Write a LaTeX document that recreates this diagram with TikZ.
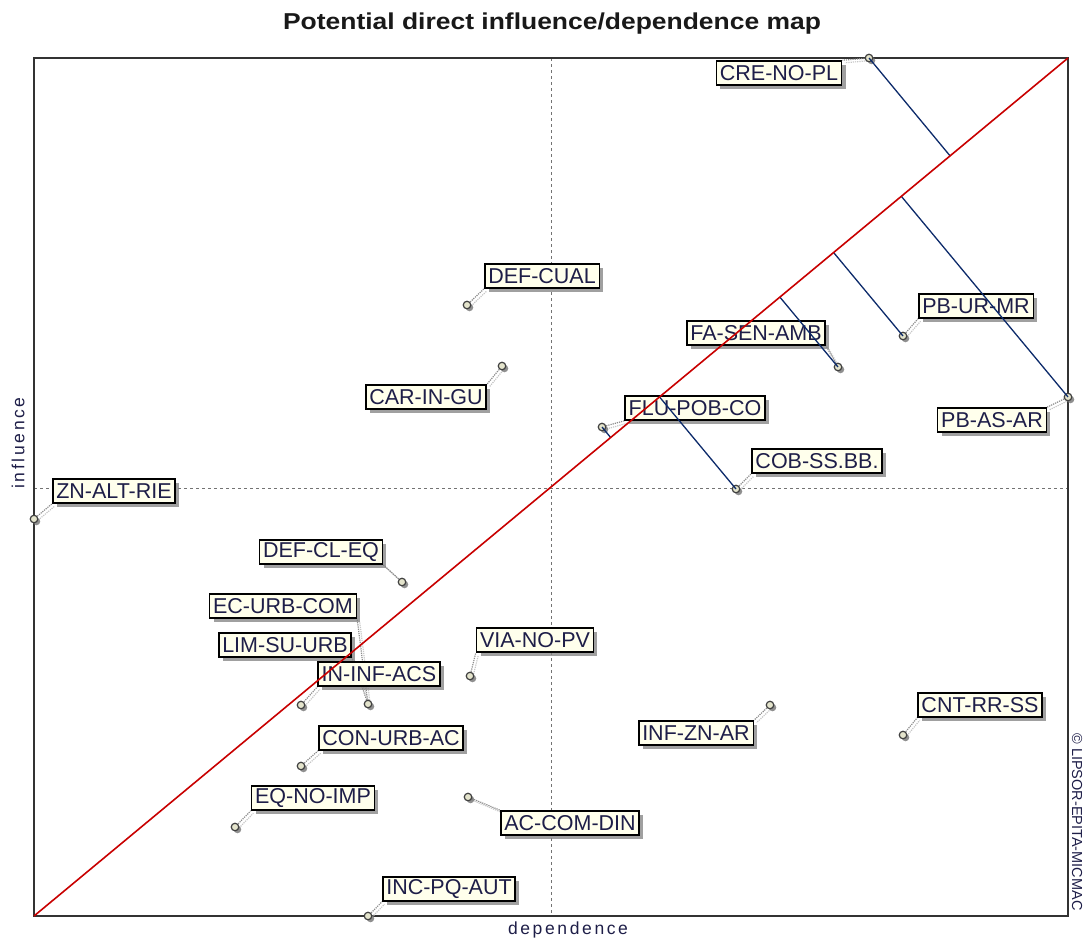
\documentclass[tikz,border=0pt]{standalone}
\usepackage{fontspec}
\setmainfont{Liberation Sans}
\newfontfamily\spacedfont[LetterSpace=15]{Liberation Sans}
\usetikzlibrary{calc,shadows}
\definecolor{labfill}{HTML}{FFFFEC}
\definecolor{labtext}{HTML}{1E1E48}
\definecolor{ptfill}{HTML}{E4E4CC}
\definecolor{perpblue}{HTML}{0C2A6A}
\definecolor{diagred}{HTML}{C80000}
\pgfdeclarelayer{back}
\pgfdeclarelayer{front}
\pgfsetlayers{back,main,front}
\begin{document}
\begin{tikzpicture}[x=1pt,y=-1pt,
  lab/.style={draw=black, line width=1.5pt, fill=labfill, text=labtext,
    font=\fontsize{21.5}{21.5}\selectfont, inner xsep=3.5pt, inner ysep=0pt,
    minimum height=24pt,
    drop shadow={shadow xshift=4pt,shadow yshift=-4pt,fill=black!50,opacity=0.75}},
  pt/.style={circle, draw=black!75, line width=1.2pt, fill=ptfill, inner sep=0pt,
    minimum size=7.5pt,
    drop shadow={shadow xshift=2.5pt,shadow yshift=-2.5pt,fill=black!55,opacity=0.8}},
  leader/.style={draw=black!45, densely dotted, line width=1.2pt},
  leadsh/.style={draw=black!22, densely dotted, line width=1.2pt, transform canvas={xshift=2.5pt,yshift=-2.5pt}},
  perp/.style={draw=perpblue, line width=1.3pt},
  diag/.style={draw=diagred, line width=1.6pt},
  frame/.style={draw=black!80, line width=1.5pt},
  mid/.style={draw=black!55, dashed, line width=0.8pt},
  axislab/.style={font=\spacedfont\fontsize{17.5}{17.5}\selectfont, text=labtext},
]
\useasboundingbox (0,0) rectangle (1083,940);

% frame corners
\coordinate (A) at (34,916);
\coordinate (B) at (1068,58);
\coordinate (TL) at (34,58);
\coordinate (BR) at (1068,916);
\coordinate (mt) at (551,58);
\coordinate (mb) at (551,916);
\coordinate (ml) at (34,488);
\coordinate (mr) at (1068,488);

% title and axis labels
\node (title) at (552,24) {\fontsize{23}{23}\selectfont\bfseries\color{black!90}\scalebox{1.15}[1]{Potential direct influence/dependence map}};
\node[axislab] (xlab) at (568,930) {dependence};
\node[axislab, rotate=90] (ylab) at (18,443) {influence};
\node[font=\fontsize{14.5}{14.5}\selectfont, text=labtext, rotate=-90] (credit) at (1077,822) {© LIPSOR-EPITA-MICMAC};

\begin{pgfonlayer}{back}
  \draw[mid] (mt) -- (mb);
  \draw[mid] (ml) -- (mr);
  \draw[frame] (TL) rectangle (BR);
\end{pgfonlayer}

% points
\node[pt] (pCRE) at (869,58) {};
\node[pt] (pDEFCUAL) at (467,305) {};
\node[pt] (pCAR) at (502,366) {};
\node[pt] (pFA) at (838,367) {};
\node[pt] (pPBUR) at (903,336) {};
\node[pt] (pPBAS) at (1068,397) {};
\node[pt] (pFLU) at (602,427) {};
\node[pt] (pCOB) at (736,489) {};
\node[pt] (pZN) at (34,519) {};
\node[pt] (pDEFCL) at (402,582) {};
\node[pt] (pEC) at (368,704) {};
\node[pt] (pIN) at (301,705) {};
\node[pt] (pVIA) at (470,676) {};
\node[pt] (pINF) at (770,705) {};
\node[pt] (pCNT) at (903,735) {};
\node[pt] (pCON) at (301,766) {};
\node[pt] (pEQ) at (235,827) {};
\node[pt] (pAC) at (468,797) {};
\node[pt] (pINC) at (368,916) {};

% labels
\node[lab] (lCRE) at (779,73) {CRE-NO-PL};
\node[lab] (lDEFCUAL) at (542,276) {DEF-CUAL};
\node[lab] (lCAR) at (426,397) {CAR-IN-GU};
\node[lab] (lFA) at (756,333) {FA-SEN-AMB};
\node[lab] (lPBUR) at (976,306) {PB-UR-MR};
\node[lab] (lPBAS) at (992,420) {PB-AS-AR};
\node[lab] (lFLU) at (695,408) {FLU-POB-CO};
\node[lab] (lCOB) at (817,461) {COB-SS.BB.};
\node[lab] (lZN) at (114,491) {ZN-ALT-RIE};
\node[lab] (lDEFCL) at (321,552) {DEF-CL-EQ};
\node[lab] (lEC) at (283,606) {EC-URB-COM};
\node[lab] (lLIM) at (285,645) {LIM-SU-URB};
\node[lab] (lIN) at (379,674) {IN-INF-ACS};
\node[lab] (lVIA) at (535,640) {VIA-NO-PV};
\node[lab] (lINF) at (696,733) {INF-ZN-AR};
\node[lab] (lCNT) at (980,705) {CNT-RR-SS};
\node[lab] (lCON) at (391,738) {CON-URB-AC};
\node[lab] (lEQ) at (313,798) {EQ-NO-IMP};
\node[lab] (lAC) at (570,823) {AC-COM-DIN};
\node[lab] (lINC) at (449,889) {INC-PQ-AUT};

% leaders
\begin{pgfonlayer}{back}
\foreach \p/\l/\a in {pCRE/lCRE/north east, pDEFCUAL/lDEFCUAL/south west,
    pCAR/lCAR/north east, pFA/lFA/south east, pPBUR/lPBUR/south west,
    pPBAS/lPBAS/north east, pFLU/lFLU/south west, pCOB/lCOB/south west,
    pZN/lZN/south west, pDEFCL/lDEFCL/south east, pEC/lEC/south east,
    pEC/lLIM/south east, pIN/lIN/south west, pVIA/lVIA/south west,
    pINF/lINF/north east, pCNT/lCNT/south west, pCON/lCON/south west,
    pEQ/lEQ/south west, pAC/lAC/north west, pINC/lINC/south west} {
  \draw[leadsh] (\p.center) -- (\l.\a);
  \draw[leader] (\p.center) -- (\l.\a);
}
\end{pgfonlayer}

% perpendiculars and diagonal
\begin{pgfonlayer}{front}
\foreach \p in {pCRE, pPBAS, pPBUR, pFA, pCOB, pFLU} {
  \draw[perp] (\p.center) -- ($(A)!(\p.center)!(B)$);
}
\draw[diag] (A) -- (B);
\end{pgfonlayer}
\end{tikzpicture}
\end{document}
